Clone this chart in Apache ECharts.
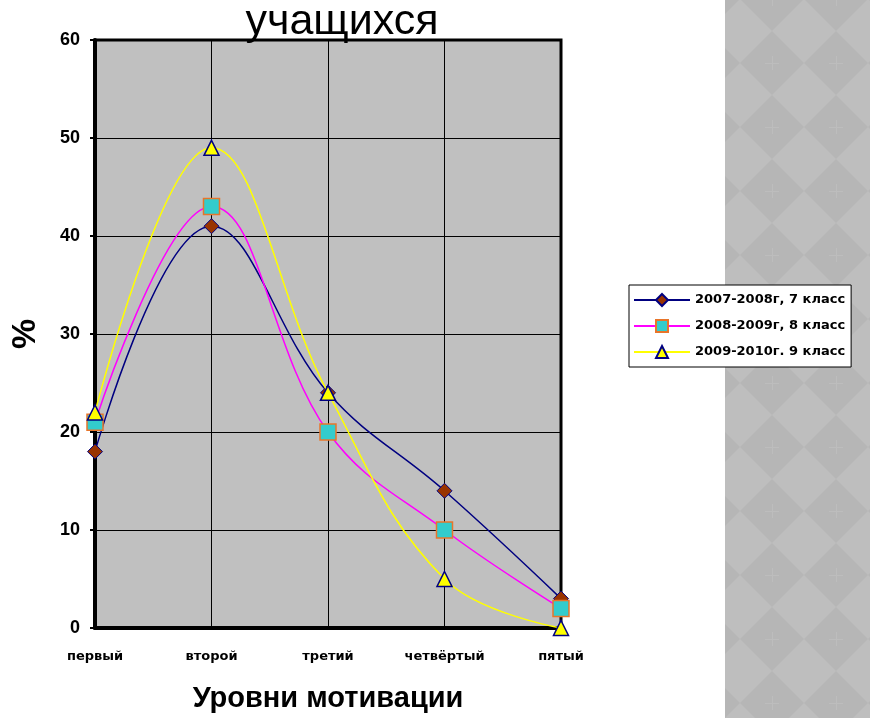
<!DOCTYPE html>
<html>
<head>
<meta charset="utf-8">
<script src="https://cdn.jsdelivr.net/npm/echarts@6/dist/echarts.min.js"></script>
<style>
  html, body { margin: 0; padding: 0; background: #fff; }
  #chart { width: 870px; height: 718px; }
</style>
</head>
<body>
<div id="chart"></div>
<script>
// уровни мотивации
var levels = ['первый', 'второй', 'третий', 'четвёртый', 'пятый'];
var yTicks = [0, 10, 20, 30, 40, 50, 60];

var names = ['2007-2008г, 7 класс', '2008-2009г, 8 класс', '2009-2010г. 9 класс'];
var class7 = [18, 41, 24, 14, 3];
var class8 = [21, 43, 20, 10, 2];
var class9 = [22, 49, 24, 5, 0];

// фон справа - ромбики
function diamondPattern() {
  var c = document.createElement('canvas');
  c.width = 64; c.height = 64;
  var ctx = c.getContext('2d');
  ctx.fillStyle = '#bebebe';
  ctx.fillRect(0, 0, 64, 64);
  for (var i = -1; i <= 1; i++) {
    for (var j = -1; j <= 1; j++) {
      var cx = 4 + 64 * i, cy = 63 + 64 * j;
      ctx.fillStyle = '#b6b6b6';
      ctx.beginPath();
      ctx.moveTo(cx, cy - 32); ctx.lineTo(cx + 32, cy); ctx.lineTo(cx, cy + 32); ctx.lineTo(cx - 32, cy);
      ctx.closePath();
      ctx.fill();
      ctx.fillStyle = '#bdbdbd';
      ctx.fillRect(cx - 7, cy, 14, 1);
      ctx.fillRect(cx, cy - 7, 1, 14);
    }
  }
  return c;
}

var chart = echarts.init(document.getElementById('chart'), null, { renderer: 'canvas' });

var option = {
  backgroundColor: '#fff',
  animation: false,
  graphic: [
    {
      type: 'rect', z: -10, silent: true,
      shape: { x: 725, y: 0, width: 145, height: 718 },
      style: { fill: { image: diamondPattern(), repeat: 'repeat' } }
    },
    {
      type: 'text', z: 10, silent: true,
      style: {
        text: 'учащихся',
        x: 342, y: 44,
        align: 'center', verticalAlign: 'bottom',
        font: '43px "Liberation Sans", Arial, sans-serif',
        fill: '#000'
      }
    }
  ],
  grid: {
    left: 95, top: 40, width: 466, height: 590,
    show: true,
    backgroundColor: '#c0c0c0',
    borderColor: '#000',
    borderWidth: 3
  },
  legend: {
    orient: 'vertical',
    left: 629, top: 285,
    data: names,
    backgroundColor: '#fff',
    borderColor: '#000',
    borderWidth: 1,
    padding: [8, 6, 8, 4],
    itemGap: 12,
    itemWidth: 56,
    itemHeight: 15,
    textStyle: {
      fontFamily: '"DejaVu Sans", sans-serif',
      fontWeight: 'bold',
      fontSize: 13,
      color: '#000'
    }
  },
  xAxis: {
    type: 'category',
    data: levels,
    boundaryGap: false,
    name: 'Уровни мотивации',
    nameLocation: 'middle',
    nameGap: 56,
    nameTextStyle: {
      fontFamily: '"Liberation Sans", Arial, sans-serif',
      fontWeight: 'bold', fontSize: 29, color: '#000'
    },
    axisLine: { lineStyle: { color: '#000', width: 4 } },
    axisTick: { show: true, length: 4, inside: true, lineStyle: { color: '#000', width: 1 } },
    axisLabel: {
      margin: 22,
      fontFamily: '"DejaVu Sans", sans-serif',
      fontWeight: 'bold', fontSize: 13, color: '#000'
    },
    splitLine: { show: true, lineStyle: { color: '#000', width: 1 } }
  },
  yAxis: {
    type: 'value',
    min: yTicks[0], max: yTicks[yTicks.length - 1], interval: 10,
    name: '%',
    nameLocation: 'middle',
    nameGap: 52,
    nameRotate: 90,
    nameTextStyle: {
      fontFamily: '"Liberation Sans", Arial, sans-serif',
      fontWeight: 'bold', fontSize: 34, color: '#000'
    },
    axisLine: { show: true, lineStyle: { color: '#000', width: 4 } },
    axisTick: { show: true, length: 5, lineStyle: { color: '#000', width: 2 } },
    axisLabel: {
      margin: 15,
      fontFamily: '"Liberation Sans", Arial, sans-serif',
      fontWeight: 'bold', fontSize: 18, color: '#000'
    },
    splitLine: { show: true, lineStyle: { color: '#000', width: 1 } }
  },
  series: [
    {
      name: names[0], type: 'line', data: class7, smooth: 0.4,
      symbol: 'diamond', symbolSize: 15,
      lineStyle: { color: '#000080', width: 1.5 },
      itemStyle: { color: '#993300', borderColor: '#000080', borderWidth: 1 },
      z: 3
    },
    {
      name: names[1], type: 'line', data: class8, smooth: 0.4,
      symbol: 'rect', symbolSize: 16,
      lineStyle: { color: '#ff00ff', width: 1.5 },
      itemStyle: { color: '#33cccc', borderColor: '#e8752a', borderWidth: 1.5 },
      z: 4
    },
    {
      name: names[2], type: 'line', data: class9, smooth: 0.4,
      symbol: 'triangle', symbolSize: 15,
      lineStyle: { color: '#ffff00', width: 1.5 },
      itemStyle: { color: '#ffff00', borderColor: '#000080', borderWidth: 1.5 },
      z: 5
    }
  ]
};

chart.setOption(option);
</script>
</body>
</html>
